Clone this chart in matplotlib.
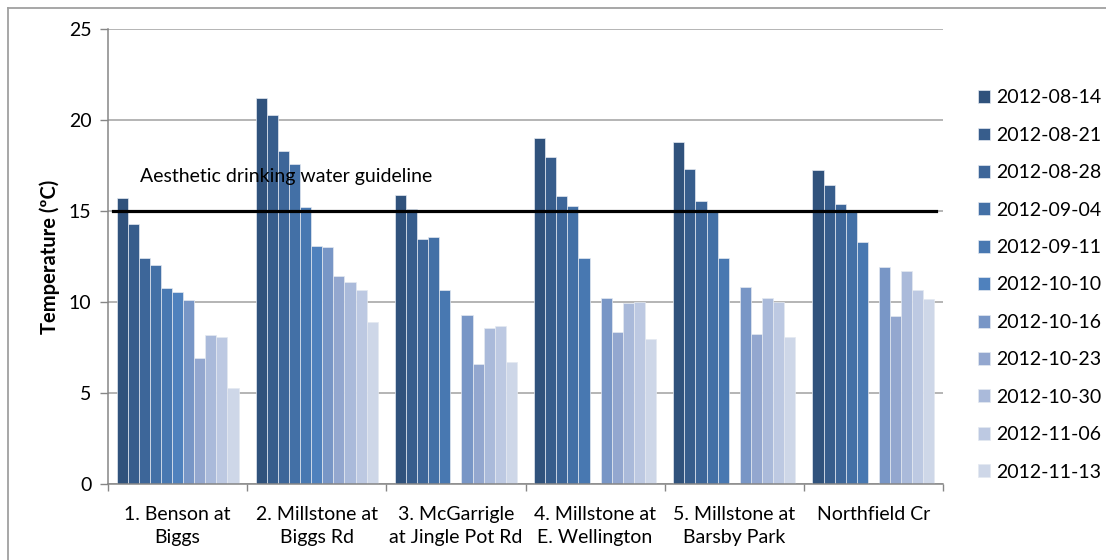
import matplotlib
matplotlib.use('Agg')
import matplotlib.pyplot as plt
from matplotlib.lines import Line2D
import numpy as np

plt.rcParams['font.family'] = ['Lato', 'DejaVu Sans']

# Sites (categories) and sample dates (series)
sites = ['1. Benson at\nBiggs', '2. Millstone at\nBiggs Rd', '3. McGarrigle\nat Jingle Pot Rd',
         '4. Millstone at\nE. Wellington', '5. Millstone at\nBarsby Park', 'Northfield Cr']
dates = ['2012-08-14', '2012-08-21', '2012-08-28', '2012-09-04', '2012-09-11', '2012-10-10',
         '2012-10-16', '2012-10-23', '2012-10-30', '2012-11-06', '2012-11-13']

# Temperatures per site, one value per date (nan = no sample)
nan = np.nan
benson = [15.7, 14.3, 12.4, 12.05, 10.75, 10.55, 10.1, 6.95, 8.2, 8.1, 5.3]
millstone_biggs = [21.2, 20.3, 18.3, 17.6, 15.2, 13.1, 13.0, 11.45, 11.1, 10.65, 8.9]
mcgarrigle = [15.9, 15.1, 13.45, 13.55, 10.65, nan, 9.3, 6.6, 8.55, 8.7, 6.7]
e_wellington = [19.0, 17.95, 15.8, 15.3, 12.4, nan, 10.2, 8.35, 9.95, 10.0, 7.95]
barsby = [18.8, 17.3, 15.55, 15.05, 12.4, nan, 10.8, 8.25, 10.2, 10.0, 8.1]
northfield = [17.25, 16.45, 15.4, 14.95, 13.3, nan, 11.95, 9.25, 11.7, 10.65, 10.15]

guideline = 15
guideline_label = 'Aesthetic drinking water guideline'

colors = ['#30527C', '#375D8C', '#3D6699', '#4370A6', '#4878B1', '#4F81BD',
          '#7896C6', '#93A7CF', '#AABADA', '#BDC9E2', '#CED7E8']

temps = np.array([benson, millstone_biggs, mcgarrigle, e_wellington, barsby, northfield])

fig = plt.figure(figsize=(11.06, 5.6), dpi=100)
ax = fig.add_axes([108 / 1106, 1 - 484 / 560, (943 - 108) / 1106, (484 - 29) / 560])

x = np.arange(len(sites))
n = len(dates)
width = 0.0796
for i in range(n):
    offs = (i - (n - 1) / 2) * width
    ax.bar(x + offs, temps[:, i], width, color=colors[i], edgecolor='#e4e9f1',
           linewidth=0.5, label=dates[i], zorder=2)

# guideline
ax.plot([-0.464, 5.448], [guideline, guideline], color='black', lw=2.3, zorder=3)
ax.text(-0.271, 16.87, guideline_label, fontsize=14, va='center', ha='left', zorder=4)

ax.set_xlim(-0.5, len(sites) - 0.5)
ax.set_ylim(0, 25)
ax.set_yticks([0, 5, 10, 15, 20, 25])
ax.yaxis.grid(True, color='#A0A0A0', lw=1.1, zorder=0)
ax.set_axisbelow(True)

ax.set_xticks(x)
ax.set_xticklabels(sites, fontsize=14, linespacing=1.42)
ax.set_xticks(np.arange(-0.5, len(sites)), minor=True)
ax.tick_params(axis='x', which='major', length=0, pad=16)
ax.tick_params(axis='x', which='minor', length=5, color='#868686', width=1)
ax.tick_params(axis='y', labelsize=14, length=6, color='#868686', width=1, pad=6)

for s in ['top', 'right']:
    ax.spines[s].set_visible(False)
for s in ['left', 'bottom']:
    ax.spines[s].set_color('#868686')
    ax.spines[s].set_linewidth(1.1)

ax.set_ylabel('Temperature (ºC)', fontsize=14.5, fontweight='bold', labelpad=6)

fig.legend(loc='center left', bbox_to_anchor=(960 / 1106, 1 - 285 / 560), frameon=False,
           fontsize=14, handlelength=0.65, handleheight=0.65, handletextpad=0.3,
           labelspacing=1.05)

# chart border
fig.add_artist(Line2D([8 / 1106, 1], [1 - 7.5 / 560, 1 - 7.5 / 560], color='#A0A0A0', lw=1.3))
fig.add_artist(Line2D([8 / 1106, 8 / 1106], [0, 1 - 7.5 / 560], color='#A0A0A0', lw=1.3))

fig.savefig('out.png', dpi=100)
